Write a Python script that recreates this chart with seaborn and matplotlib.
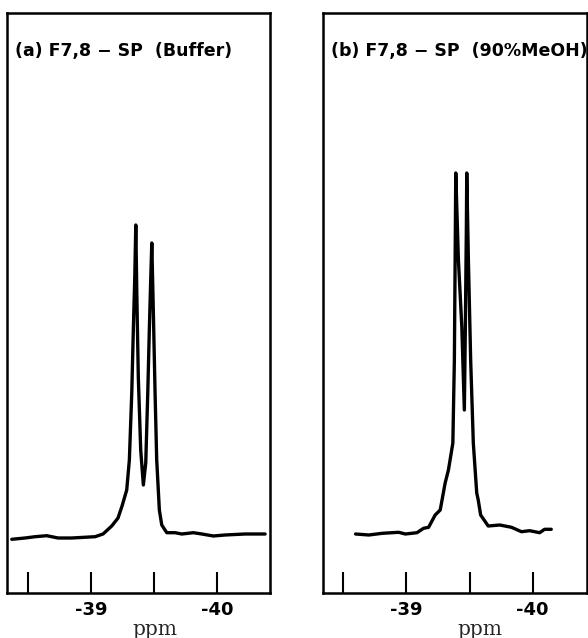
"""
19F NMR spectra of F7,8-SP in buffer and in 90% MeOH, two boxed panels
"""

import pandas as pd
import matplotlib.pyplot as plt
import seaborn as sns

# Panel (a): buffer, chemical shift (ppm) and intensity (arb. units)
ppm_a = [-38.371, -38.476, -38.556, -38.648, -38.738, -38.847, -39.032, -39.095,
         -39.164, -39.214, -39.246, -39.283, -39.304, -39.323, -39.336, -39.347,
         -39.355, -39.363, -39.375, -39.394, -39.415, -39.434, -39.450, -39.463,
         -39.474, -39.482, -39.494, -39.508, -39.521, -39.542, -39.561, -39.601,
         -39.667, -39.720, -39.812, -39.879, -39.971, -40.063, -40.222, -40.381]
int_a = [53.7, 55, 56.3, 57.3, 55, 55, 56.3, 59,
         67, 75, 87, 103, 133, 200, 266, 316,
         368, 300, 216, 143, 108, 130, 200, 266,
         316, 350, 283, 200, 133, 83, 68, 60.3,
         60.3, 59, 60.3, 59, 57, 58, 59, 59]

# Panel (b): 90% MeOH
ppm_b = [-38.598, -38.703, -38.809, -38.939, -38.992, -39.084, -39.136, -39.176,
         -39.228, -39.268, -39.307, -39.333, -39.368, -39.380, -39.386, -39.391,
         -39.412, -39.439, -39.459, -39.467, -39.475, -39.478, -39.491, -39.509,
         -39.530, -39.557, -39.569, -39.588, -39.648, -39.740, -39.832, -39.911,
         -39.976, -40.055, -40.094, -40.147]
int_b = [59, 58, 59.7, 60.7, 59, 60.3, 64.7, 65.7,
         78, 83, 110, 123, 150, 233, 333, 420,
         333, 266, 183, 266, 366, 420, 333, 233,
         150, 100, 93, 78, 67, 68, 65.7, 61.3,
         62.3, 60.3, 63.7, 63.7]

titles = ['(a) F7,8 \u2212 SP  (Buffer)', '(b) F7,8 \u2212 SP  (90%MeOH)']
tick_pos = [-38.5, -39.0, -39.5, -40.0]
tick_lab = ['', '-39', '', '-40']

sns.set_style('white')
plt.rcParams['font.family'] = ['DejaVu Sans']
plt.rcParams['text.color'] = 'black'
plt.rcParams['xtick.color'] = 'black'

fig = plt.figure(figsize=(5.88, 6.38), dpi=100)

# axes boxes in figure fractions (left, bottom, width, height)
boxes = [[7 / 588, 45 / 638, 263 / 588, 580 / 638],
         [323 / 588, 45 / 638, 264 / 588, 580 / 638]]
xlims = [(-38.333, -40.42), (-38.34, -40.43)]
label_x = [0.563, 0.595]

spectra = [pd.DataFrame({'ppm': ppm_a, 'intensity': int_a}),
           pd.DataFrame({'ppm': ppm_b, 'intensity': int_b})]

for i, df in enumerate(spectra):
    ax = fig.add_axes(boxes[i])
    sns.lineplot(data=df, x='ppm', y='intensity', ax=ax, color='black',
                 linewidth=2.4, sort=False)
    ax.set_xlim(*xlims[i])
    ax.set_ylim(0, 580)

    # frame
    for side in ax.spines.values():
        side.set_visible(True)
        side.set_color('black')
        side.set_linewidth(1.8)

    ax.set_yticks([])
    ax.set_ylabel('')
    ax.set_xticks(tick_pos)
    ax.set_xticklabels(tick_lab, fontsize=13, fontweight='bold')
    ax.tick_params(axis='x', direction='in', length=15, width=1.5,
                   pad=6, bottom=True, colors='black')

    ax.set_xlabel('ppm', family='DejaVu Serif', fontsize=14.5)
    ax.xaxis.set_label_coords(label_x[i], -0.046)

    ax.text(0.03, 0.935, titles[i], transform=ax.transAxes, fontsize=12.5,
            fontweight='bold', ha='left', va='center', clip_on=False)

plt.savefig('out.png', dpi=100)
